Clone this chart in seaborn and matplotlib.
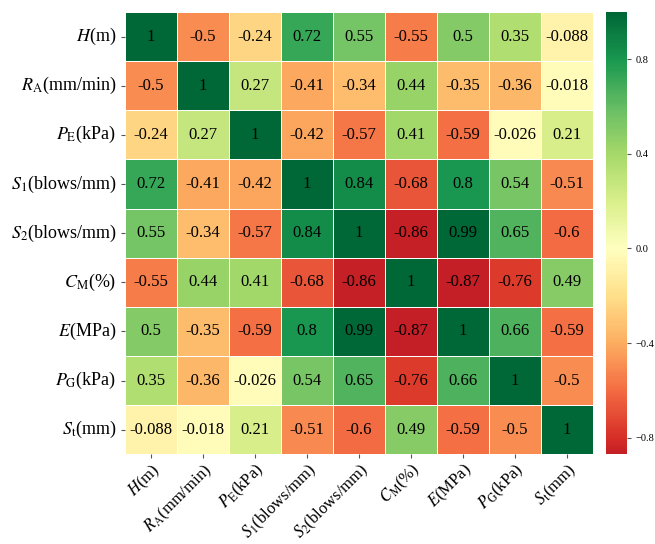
import matplotlib
matplotlib.use('Agg')
import matplotlib.pyplot as plt
import seaborn as sns
import pandas as pd

# 变量标签
labels = [r'$H$(m)', r'$R_{\mathrm{A}}$(mm/min)', r'$P_{\mathrm{E}}$(kPa)',
          r'$S_{1}$(blows/mm)', r'$S_{2}$(blows/mm)', r'$C_{\mathrm{M}}$(%)',
          r'$E$(MPa)', r'$P_{\mathrm{G}}$(kPa)', r'$S_{\mathrm{t}}$(mm)']

# 相关系数矩阵（按行）
row_H = [1, -0.5, -0.24, 0.72, 0.55, -0.55, 0.5, 0.35, -0.088]
row_RA = [-0.5, 1, 0.27, -0.41, -0.34, 0.44, -0.35, -0.36, -0.018]
row_PE = [-0.24, 0.27, 1, -0.42, -0.57, 0.41, -0.59, -0.026, 0.21]
row_S1 = [0.72, -0.41, -0.42, 1, 0.84, -0.68, 0.8, 0.54, -0.51]
row_S2 = [0.55, -0.34, -0.57, 0.84, 1, -0.86, 0.99, 0.65, -0.6]
row_CM = [-0.55, 0.44, 0.41, -0.68, -0.86, 1, -0.87, -0.76, 0.49]
row_E = [0.5, -0.35, -0.59, 0.8, 0.99, -0.87, 1, 0.66, -0.59]
row_PG = [0.35, -0.36, -0.026, 0.54, 0.65, -0.76, 0.66, 1, -0.5]
row_St = [-0.088, -0.018, 0.21, -0.51, -0.6, 0.49, -0.59, -0.5, 1]

corr = pd.DataFrame([row_H, row_RA, row_PE, row_S1, row_S2, row_CM, row_E, row_PG, row_St],
                    index=labels, columns=labels)

plt.rcParams['font.family'] = ['Liberation Serif', 'DejaVu Serif']
plt.rcParams['mathtext.fontset'] = 'stix'

fig = plt.figure(figsize=(6.55, 5.44), dpi=100)
ax = fig.add_axes([0.191, 0.165, 0.714, 0.813])
cax = fig.add_axes([0.925, 0.165, 0.032, 0.813])

sns.heatmap(corr, cmap='RdYlGn', center=0, annot=True, fmt='.2g', linewidths=0.5,
            linecolor='white', ax=ax, cbar_ax=cax,
            annot_kws={'fontsize': 12, 'color': 'black'})

ax.set_xticklabels(labels, rotation=45, ha='right', rotation_mode='anchor', fontsize=12)
ax.set_yticklabels(labels, rotation=0, fontsize=13)
ax.tick_params(axis='both', length=3, color='#555555')
ax.tick_params(axis='x', pad=1.5)
cax.set_yticks([-0.8, -0.4, 0.0, 0.4, 0.8])
cax.tick_params(labelsize=7.5, length=3, color='#555555')

fig.savefig('out.png', dpi=100)
